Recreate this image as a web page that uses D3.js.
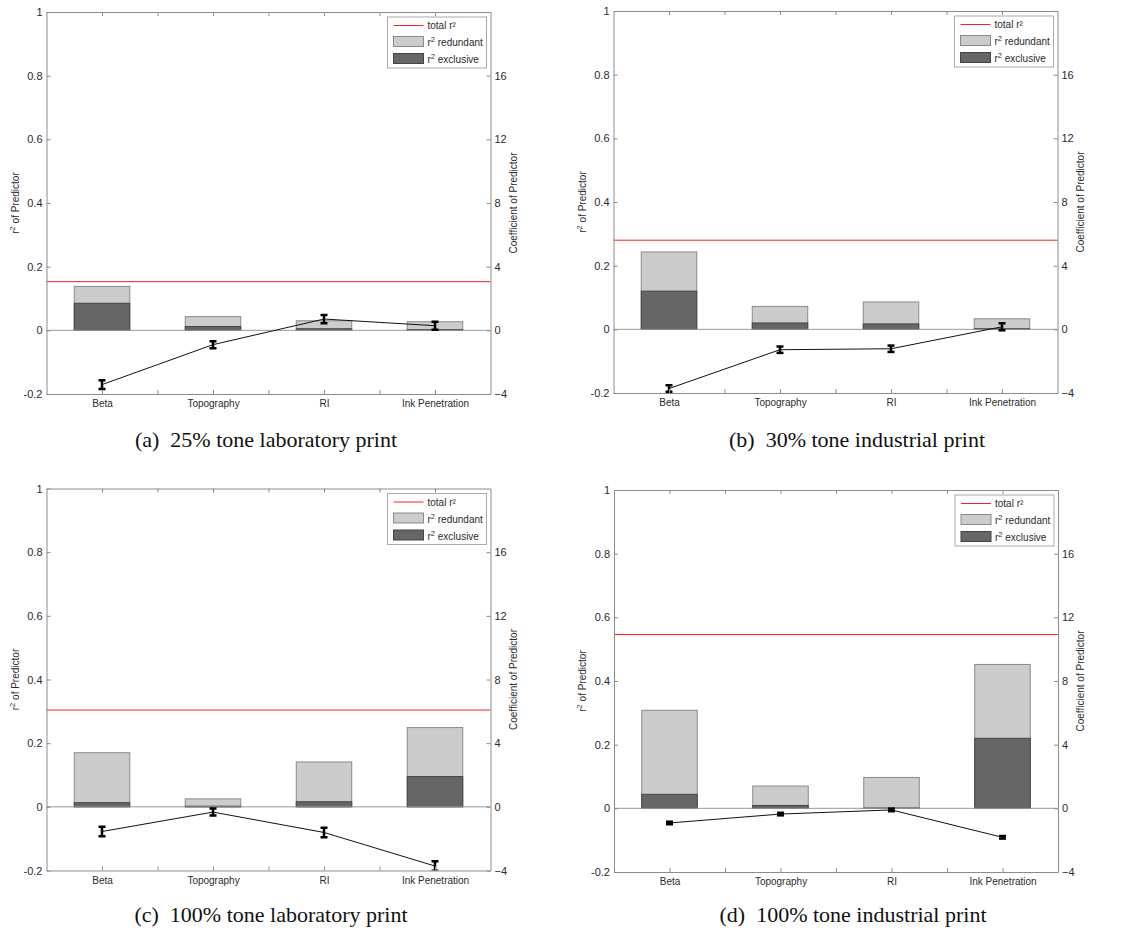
<!DOCTYPE html>
<html><head><meta charset="utf-8">
<script src="https://cdn.jsdelivr.net/npm/d3@7"></script>
<style>
body{margin:0;background:#fff}
text{font-family:"Liberation Sans",Arial,sans-serif}
</style></head><body>
<svg id="chart" width="1135" height="935"></svg>
<script>
// ---------- data ----------
const categories = ["Beta", "Topography", "RI", "Ink Penetration"];
const captions = [
  "(a)  25% tone laboratory print",
  "(b)  30% tone industrial print",
  "(c)  100% tone laboratory print",
  "(d)  100% tone industrial print"
];
const totalR2 = [0.153, 0.280, 0.304, 0.546];

// stacked bar top (redundant + exclusive) per panel
const barTopA = [0.138, 0.043, 0.030, 0.027];
const barTopB = [0.243, 0.072, 0.086, 0.033];
const barTopC = [0.170, 0.025, 0.141, 0.249];
const barTopD = [0.308, 0.070, 0.097, 0.452];

// exclusive r2 per panel
const exclusiveA = [0.085, 0.012, 0.005, 0.002];
const exclusiveB = [0.120, 0.020, 0.017, 0.002];
const exclusiveC = [0.013, 0.002, 0.016, 0.095];
const exclusiveD = [0.044, 0.009, 0.001, 0.220];

// regression coefficients and their error (right axis)
const coefA = [-3.41, -0.90, 0.71, 0.29];
const coefB = [-3.72, -1.28, -1.22, 0.16];
const coefC = [-1.55, -0.33, -1.61, -3.72];
const coefD = [-0.92, -0.36, -0.10, -1.82];
const errA = [0.28, 0.22, 0.26, 0.25];
const errB = [0.20, 0.20, 0.20, 0.22];
const errC = [0.30, 0.22, 0.30, 0.30];
const errD = [0.08, 0.08, 0.08, 0.08];

const yTicks = [-0.2, 0, 0.2, 0.4, 0.6, 0.8, 1];
const yTickLabels = ["-0.2", "0", "0.2", "0.4", "0.6", "0.8", "1"];
const y2Ticks = [-4, 0, 4, 8, 12, 16];
const xTicks = [1, 1.5, 2, 2.5, 3, 3.5, 4];

const panels = [
  {top: barTopA, excl: exclusiveA, coef: coefA, err: errA},
  {top: barTopB, excl: exclusiveB, coef: coefB, err: errB},
  {top: barTopC, excl: exclusiveC, coef: coefC, err: errC},
  {top: barTopD, excl: exclusiveD, coef: coefD, err: errD}
];

// ---------- layout ----------
const svg = d3.select("#chart");
const W = 444, H = 382;
const origins = [[46.5, 12], [613.5, 11], [46.5, 488.5], [614, 490]];
const captionPos = [[266, 447], [857, 447], [271, 922], [853, 922]];
const axisCol = "#8c8c8c", textCol = "#2b2b2b";
const fs = "10px";

panels.forEach((p, i) => {
  const [ox, oy] = origins[i];
  const g = svg.append("g").attr("transform", `translate(${ox},${oy})`);
  const x = d3.scaleLinear().domain([0.5, 4.5]).range([0, W]);
  const y = d3.scaleLinear().domain([-0.2, 1]).range([H, 0]);
  const y2 = d3.scaleLinear().domain([-4, 20]).range([H, 0]);
  const bw = x(1.25) - x(0.75);

  g.append("clipPath").attr("id", "clip" + i)
    .append("rect").attr("x", 0).attr("y", 0).attr("width", W).attr("height", H);

  // bars: redundant (light) full height, exclusive (dark) overlay
  const data = categories.map((c, k) => ({k: k + 1, top: p.top[k], excl: p.excl[k]}));
  g.selectAll(".red").data(data).enter().append("rect")
    .attr("x", d => x(d.k) - bw / 2).attr("width", bw)
    .attr("y", d => y(d.top)).attr("height", d => y(0) - y(d.top))
    .attr("fill", "#cccccc").attr("stroke", "#8a8a8a").attr("stroke-width", 1);
  g.selectAll(".exc").data(data).enter().append("rect")
    .attr("x", d => x(d.k) - bw / 2).attr("width", bw)
    .attr("y", d => y(d.excl)).attr("height", d => y(0) - y(d.excl))
    .attr("fill", "#666666").attr("stroke", "#444444").attr("stroke-width", 1);

  // zero line
  g.append("line").attr("x1", 0).attr("x2", W).attr("y1", y(0)).attr("y2", y(0))
    .attr("stroke", "#999999").attr("stroke-width", 1);

  // total r2 line
  g.append("line").attr("x1", 0).attr("x2", W)
    .attr("y1", y(totalR2[i])).attr("y2", y(totalR2[i]))
    .attr("stroke", "#ff2020").attr("stroke-width", 1);

  // coefficient line + error bars
  const cd = categories.map((c, k) => ({k: k + 1, v: p.coef[k], e: p.err[k]}));
  const cg = g.append("g").attr("clip-path", `url(#clip${i})`);
  cg.append("path").datum(cd)
    .attr("d", d3.line().x(d => x(d.k)).y(d => y2(d.v)))
    .attr("fill", "none").attr("stroke", "#111").attr("stroke-width", 1);
  const eb = cg.selectAll(".eb").data(cd).enter().append("g");
  eb.append("line").attr("x1", d => x(d.k)).attr("x2", d => x(d.k))
    .attr("y1", d => y2(d.v - d.e)).attr("y2", d => y2(d.v + d.e))
    .attr("stroke", "#000").attr("stroke-width", 2.5);
  eb.append("line").attr("x1", d => x(d.k) - 3.5).attr("x2", d => x(d.k) + 3.5)
    .attr("y1", d => y2(d.v - d.e)).attr("y2", d => y2(d.v - d.e))
    .attr("stroke", "#000").attr("stroke-width", 2.5);
  eb.append("line").attr("x1", d => x(d.k) - 3.5).attr("x2", d => x(d.k) + 3.5)
    .attr("y1", d => y2(d.v + d.e)).attr("y2", d => y2(d.v + d.e))
    .attr("stroke", "#000").attr("stroke-width", 2.5);

  // axes
  const styleAxis = sel => {
    sel.select(".domain").attr("stroke", axisCol);
    sel.selectAll(".tick line").attr("stroke", axisCol);
    sel.selectAll(".tick text").attr("fill", textCol).style("font-size", "11px")
      .style("font-family", "'Liberation Sans', Arial, sans-serif");
  };
  const left = g.append("g")
    .call(d3.axisLeft(y).tickValues(yTicks).tickFormat((d, j) => yTickLabels[j])
      .tickSizeInner(-4).tickSizeOuter(0).tickPadding(4));
  styleAxis(left);
  const right = g.append("g").attr("transform", `translate(${W},0)`)
    .call(d3.axisRight(y2).tickValues(y2Ticks).tickFormat(d3.format("d"))
      .tickSizeInner(-4).tickSizeOuter(0).tickPadding(4));
  styleAxis(right);
  const bottom = g.append("g").attr("transform", `translate(0,${H})`)
    .call(d3.axisBottom(x).tickValues(xTicks)
      .tickFormat(d => Number.isInteger(d) ? categories[d - 1] : "")
      .tickSizeInner(-4).tickSizeOuter(0).tickPadding(6));
  styleAxis(bottom);
  bottom.selectAll(".tick text").style("font-size", fs);
  const topAx = g.append("g")
    .call(d3.axisTop(x).tickValues(xTicks).tickFormat("")
      .tickSizeInner(-4).tickSizeOuter(0));
  styleAxis(topAx);

  // axis labels
  const yl = g.append("text").attr("transform", `translate(${-28},${H / 2}) rotate(-90)`)
    .attr("text-anchor", "middle").attr("fill", textCol).style("font-size", fs);
  yl.append("tspan").text("r");
  yl.append("tspan").attr("dy", -4).style("font-size", "7.5px").text("2");
  yl.append("tspan").attr("dy", 4).text(" of Predictor");
  g.append("text").attr("transform", `translate(${W + 26},${H / 2}) rotate(-90)`)
    .attr("text-anchor", "middle").attr("fill", textCol).style("font-size", fs)
    .text("Coefficient of Predictor");

  // legend
  const lg = g.append("g").attr("transform", `translate(${W - 103},${5})`);
  lg.append("rect").attr("width", 99).attr("height", 51)
    .attr("fill", "#fff").attr("stroke", "#aaaaaa");
  lg.append("line").attr("x1", 6).attr("x2", 36).attr("y1", 8.5).attr("y2", 8.5)
    .attr("stroke", "#ff2020");
  lg.append("text").attr("x", 40).attr("y", 12).attr("fill", textCol)
    .style("font-size", fs).text("total r²");
  lg.append("rect").attr("x", 6).attr("y", 19.5).attr("width", 30).attr("height", 10)
    .attr("fill", "#cccccc").attr("stroke", "#8a8a8a");
  lg.append("rect").attr("x", 6).attr("y", 36.5).attr("width", 30).attr("height", 10)
    .attr("fill", "#666666").attr("stroke", "#444444");
  [["redundant", 29], ["exclusive", 46]].forEach(([lab, ty]) => {
    const t = lg.append("text").attr("x", 40).attr("y", ty).attr("fill", textCol)
      .style("font-size", fs);
    t.append("tspan").text("r");
    t.append("tspan").attr("dy", -4).style("font-size", "7.5px").text("2");
    t.append("tspan").attr("dy", 4).text(" " + lab);
  });

  // caption
  svg.append("text").attr("x", captionPos[i][0]).attr("y", captionPos[i][1])
    .attr("text-anchor", "middle").attr("fill", "#111")
    .style("font-family", "'Liberation Serif','Times New Roman',serif")
    .style("font-size", "22px").style("white-space", "pre")
    .text(captions[i]);
});
</script>
</body></html>
